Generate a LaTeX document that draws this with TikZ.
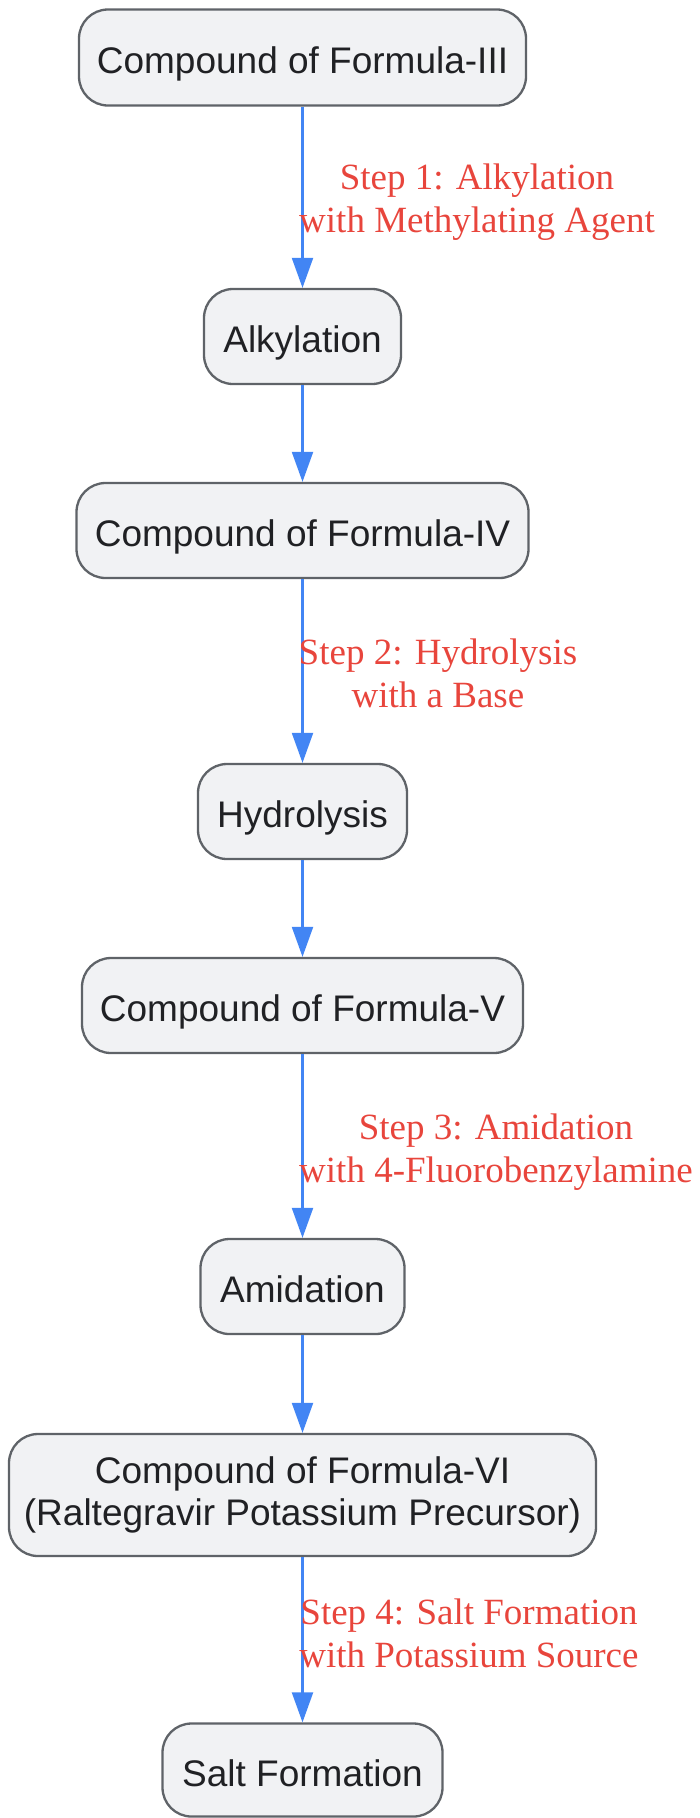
\documentclass[tikz,border=0pt]{standalone}
\usepackage{fontspec}
\setmainfont{Liberation Sans}
\newfontfamily\labelfont{Liberation Serif}
\usetikzlibrary{arrows.meta}
\definecolor{boxfill}{HTML}{F1F2F4}
\definecolor{boxline}{HTML}{5F6368}
\definecolor{txt}{HTML}{202124}
\definecolor{edgeblue}{HTML}{4285F4}
\definecolor{labred}{HTML}{E8453C}
\tikzset{
  procbox/.style={draw=boxline, line width=2.3pt, fill=boxfill, rounded corners=29pt,
    inner sep=0pt, align=center, text=txt, font=\fontsize{37}{42}\selectfont},
  oneline/.style={text height=32pt, text depth=0pt},
  flow/.style={draw=edgeblue, line width=2.2pt, -{Triangle[length=30pt,width=21pt]}},
  steplabel/.style={align=center, text=labred, inner sep=0pt,
    font=\labelfont\fontsize{37}{43}\selectfont}
}
\begin{document}
\begin{tikzpicture}[x=1pt,y=-1pt]
\useasboundingbox (0,0) rectangle (700,1818);
\clip (0,0) rectangle (700,1818);
\node[procbox, oneline, minimum width=447pt, minimum height=96pt] (f3) at (302.5,57.5) {Compound of Formula-III};
\node[procbox, oneline, minimum width=197pt, minimum height=95pt] (alk) at (302.5,336.5) {Alkylation};
\node[procbox, oneline, minimum width=452pt, minimum height=95pt] (f4) at (302.5,530.5) {Compound of Formula-IV};
\node[procbox, oneline, minimum width=209pt, minimum height=95pt] (hyd) at (302.5,811.5) {Hydrolysis};
\node[procbox, oneline, minimum width=441pt, minimum height=95pt] (f5) at (302.5,1005.5) {Compound of Formula-V};
\node[procbox, oneline, minimum width=204pt, minimum height=95pt] (ami) at (302.5,1286.5) {Amidation};
\node[procbox, minimum width=587pt, minimum height=122pt] (f6) at (302.5,1495) {Compound of Formula-VI\\(Raltegravir Potassium Precursor)};
\node[procbox, oneline, minimum width=280pt, minimum height=93pt] (salt) at (302.5,1770) {Salt Formation};

\draw[flow] (f3) -- (alk);
\draw[flow] (alk) -- (f4);
\draw[flow] (f4) -- (hyd);
\draw[flow] (hyd) -- (f5);
\draw[flow] (f5) -- (ami);
\draw[flow] (ami) -- (f6);
\draw[flow] (f6) -- (salt);

\node[steplabel] (l1) at (477,202.5) {Step 1: Alkylation\\with Methylating Agent};
\node[steplabel] (l2) at (438,673.5) {Step 2: Hydrolysis\\with a Base};
\node[steplabel] (l3) at (496,1152.5) {Step 3: Amidation\\with 4-Fluorobenzylamine};
\node[steplabel] (l4) at (469,1633) {Step 4: Salt Formation\\with Potassium Source};
\end{tikzpicture}
\end{document}
